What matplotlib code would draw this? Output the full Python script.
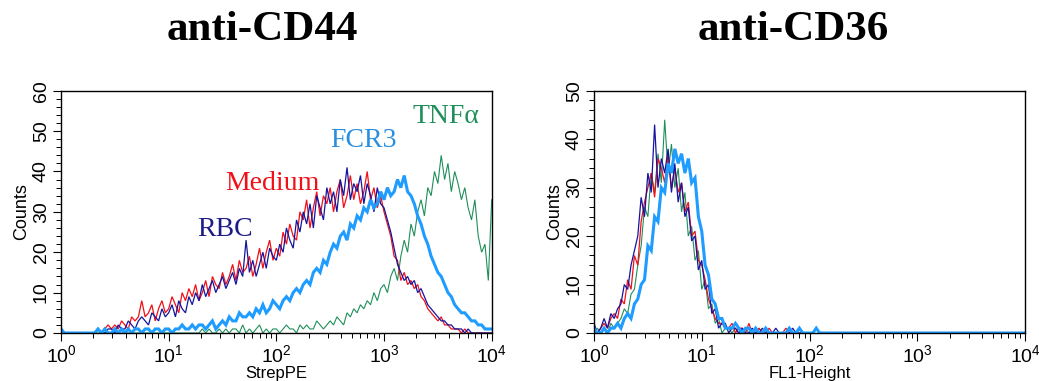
import numpy as np
import matplotlib
matplotlib.use("Agg")
import matplotlib.pyplot as plt
from matplotlib.ticker import FixedLocator, FuncFormatter, MultipleLocator

plt.rcParams['font.family'] = ['Liberation Sans', 'DejaVu Sans']
plt.rcParams['mathtext.fontset'] = 'custom'
plt.rcParams['mathtext.rm'] = 'Liberation Sans'

# histogram channels: 32 bins per decade, 10^0 .. 10^4
BINS_PER_DECADE = 32
channels = 10 ** (np.arange(129) / BINS_PER_DECADE)

# ---- anti-CD44 (StrepPE) counts per channel ----
cd44_medium = [0, 0, 0, 0, 0, 0, 0, 0,
               0, 0, 0, 1, 0, 1, 2, 1,
               2, 1, 3, 2, 1, 4, 3, 4,
               8, 4, 5, 7, 3, 6, 8, 5,
               6, 9, 7, 5, 10, 8, 11, 9,
               12, 8, 10, 13, 9, 14, 12, 11,
               15, 12, 14, 17, 13, 18, 15, 16,
               19, 14, 17, 21, 16, 20, 23, 18,
               21, 19, 25, 22, 27, 24, 23, 30,
               28, 33, 26, 31, 35, 29, 34, 32,
               36, 30, 35, 38, 31, 34, 39, 33,
               37, 32, 35, 40, 33, 36, 31, 34,
               30, 27, 24, 19, 18, 13, 15, 12,
               13, 11, 12, 9, 8, 6, 5, 4,
               3, 4, 2, 2, 1, 1, 1, 0,
               1, 0, 0, 0, 0, 0, 0, 0, 0]
cd44_rbc = [0, 0, 0, 0, 0, 0, 0, 0,
            0, 0, 0, 1, 0, 0, 1, 1,
            0, 2, 1, 1, 3, 2, 1, 3,
            4, 3, 2, 5, 4, 3, 6, 4,
            5, 7, 4, 8, 6, 5, 9, 7,
            10, 8, 12, 9, 11, 13, 10, 12,
            14, 11, 13, 15, 12, 16, 14, 23,
            15, 18, 14, 17, 20, 16, 21, 19,
            18, 22, 20, 26, 23, 21, 28, 25,
            30, 27, 32, 26, 34, 31, 28, 36,
            32, 35, 30, 38, 34, 41, 33, 37,
            35, 39, 32, 37, 34, 30, 36, 32,
            31, 28, 25, 21, 17, 15, 13, 14,
            12, 13, 10, 11, 9, 7, 6, 5,
            4, 3, 3, 2, 2, 1, 1, 1,
            0, 1, 0, 0, 0, 0, 0, 0, 0]
cd44_fcr3 = [1, 0, 0, 0, 0, 0, 0, 0,
             0, 0, 0, 1, 0, 1, 0, 0,
             1, 0, 1, 0, 1, 0, 1, 1,
             0, 1, 1, 0, 1, 1, 0, 1,
             1, 0, 1, 1, 2, 1, 1, 2,
             1, 2, 2, 1, 2, 3, 1, 2,
             3, 2, 4, 3, 3, 5, 4, 4,
             5, 4, 6, 5, 7, 5, 6, 8,
             7, 6, 8, 9, 8, 10, 11, 10,
             12, 13, 12, 15, 16, 15, 18, 17,
             20, 22, 21, 24, 25, 23, 27, 26,
             29, 28, 31, 30, 33, 31, 32, 35,
             33, 36, 34, 35, 38, 36, 39, 35,
             34, 32, 29, 27, 24, 22, 19, 17,
             15, 14, 12, 10, 9, 7, 6, 5,
             5, 4, 3, 3, 2, 2, 1, 1, 1]
cd44_tnfa = [0, 0, 0, 0, 0, 0, 0, 0,
             0, 0, 0, 0, 0, 0, 0, 0,
             0, 0, 0, 0, 0, 0, 0, 0,
             0, 0, 0, 0, 0, 0, 0, 0,
             0, 0, 0, 0, 0, 0, 0, 0,
             0, 0, 1, 0, 1, 0, 0, 1,
             0, 1, 0, 1, 1, 0, 2, 0,
             1, 0, 1, 2, 0, 1, 0, 1,
             1, 0, 1, 2, 1, 1, 0, 2,
             1, 2, 1, 1, 3, 2, 1, 2,
             3, 2, 4, 3, 2, 5, 4, 6,
             5, 7, 6, 8, 7, 10, 8, 11,
             12, 10, 14, 16, 13, 19, 23, 20,
             27, 24, 30, 33, 29, 36, 34, 40,
             37, 44, 38, 42, 35, 40, 37, 33,
             36, 31, 28, 33, 24, 20, 22, 13, 33]

# ---- anti-CD36 (FL1-Height) counts per channel ----
cd36_medium = [1, 0, 1, 2, 1, 3, 4, 3,
               7, 6, 11, 9, 16, 14, 23, 27,
               30, 33, 28, 36, 34, 31, 37, 30,
               34, 29, 31, 25, 27, 20, 21, 15,
               14, 11, 7, 5, 3, 2, 2, 1,
               1, 2, 0, 1, 1, 0, 2, 0,
               0, 1, 0, 0, 1, 0, 0, 0,
               0, 1, 0, 0, 0, 0, 0, 0]
cd36_rbc = [2, 0, 1, 3, 1, 4, 3, 5,
            6, 10, 9, 14, 17, 20, 28, 24,
            33, 29, 43, 30, 36, 33, 38, 29,
            35, 27, 31, 24, 26, 19, 20, 13,
            15, 9, 10, 4, 5, 1, 2, 2,
            0, 1, 1, 0, 1, 0, 0, 1,
            0, 0, 1, 0, 0, 0, 1, 0,
            0, 0, 0, 1, 0, 0, 0, 0]
cd36_tnfa = [0, 1, 0, 1, 0, 2, 1, 2,
             3, 5, 4, 8, 9, 14, 18, 26,
             24, 33, 29, 37, 31, 44, 33, 39,
             30, 34, 25, 29, 20, 22, 15, 17,
             9, 11, 5, 6, 2, 3, 0, 1,
             1, 0, 1, 0, 0, 1, 0, 0,
             0, 1, 0, 0, 0, 0, 0, 0]
cd36_fcr3 = [1, 0, 0, 1, 0, 1, 1, 2,
             1, 3, 4, 3, 6, 7, 10, 11,
             18, 17, 24, 23, 30, 29, 35, 33,
             38, 35, 37, 33, 36, 31, 32, 24,
             21, 14, 12, 7, 6, 3, 3, 1,
             1, 1, 2, 1, 0, 1, 1, 0,
             1, 0, 0, 1, 0, 0, 0, 0,
             0, 0, 1, 0, 0, 1, 0, 0,
             0, 0, 1, 0, 0, 0, 0, 0] + [0] * 57

C_MED = '#f01018'
C_RBC = '#1414a0'
C_FCR = '#1e9cff'
C_TNF = '#1f8f5a'

fig = plt.figure(figsize=(10.39, 3.81), dpi=100)
W, H = 1039, 381
ax1 = fig.add_axes([61 / W, 48 / H, 430.7 / W, 242.3 / H])
ax2 = fig.add_axes([594 / W, 48 / H, 431 / W, 242.3 / H])


def draw(ax, series):
    for y, col, lw in series:
        ax.plot(channels[:len(y)], y, color=col, lw=lw, solid_joinstyle='miter')


draw(ax1, [(cd44_tnfa, C_TNF, 0.8), (cd44_medium, C_MED, 0.9),
           (cd44_rbc, C_RBC, 0.9), (cd44_fcr3, C_FCR, 2.2)])
draw(ax2, [(cd36_tnfa, C_TNF, 0.8), (cd36_medium, C_MED, 0.9),
           (cd36_rbc, C_RBC, 0.9), (cd36_fcr3, C_FCR, 2.2)])

fmt = FuncFormatter(lambda v, p: r'$\mathregular{10^{%d}}$' % round(np.log10(v)))
for ax, ymax, xlab in [(ax1, 60, 'StrepPE'), (ax2, 50, 'FL1-Height')]:
    ax.set_xscale('log')
    ax.set_xlim(1, 1e4)
    ax.set_ylim(0, ymax)
    ax.xaxis.set_major_locator(FixedLocator([1, 10, 100, 1000, 10000]))
    ax.xaxis.set_major_formatter(fmt)
    ax.yaxis.set_major_locator(MultipleLocator(10))
    ax.yaxis.set_minor_locator(MultipleLocator(2))
    ax.tick_params(axis='both', which='major', length=6, width=0.8,
                   labelsize=14, direction='out')
    ax.tick_params(axis='both', which='minor', length=3.5, width=0.7,
                   direction='out')
    ax.tick_params(axis='y', labelrotation=90, pad=2)
    for lab in ax.get_yticklabels():
        lab.set_va('center')
    ax.tick_params(axis='x', pad=2)
    for s in ax.spines.values():
        s.set_linewidth(1.0)
    ax.set_xlabel(xlab, fontsize=12, labelpad=0)
    ax.set_ylabel('Counts', fontsize=13, labelpad=2)

fig.text(262 / W, 1 - 30 / H, 'anti-CD44', family='Liberation Serif',
         fontweight='bold', fontsize=31, ha='center', va='center')
fig.text(793 / W, 1 - 30 / H, 'anti-CD36', family='Liberation Serif',
         fontweight='bold', fontsize=31, ha='center', va='center')

lab_kw = dict(family='Liberation Serif', fontsize=20, ha='left', va='baseline')
ax1.text(33.3, 35.4, 'Medium', color=C_MED, **lab_kw)
ax1.text(18.3, 24.0, 'RBC', color='#1c1c88', **lab_kw)
ax1.text(315, 46.1, 'FCR3', color='#2a8ee0', **lab_kw)
ax1.text(1854, 52.0, 'TNF\u03b1', color=C_TNF, **lab_kw)

fig.savefig('out.png', dpi=100)
